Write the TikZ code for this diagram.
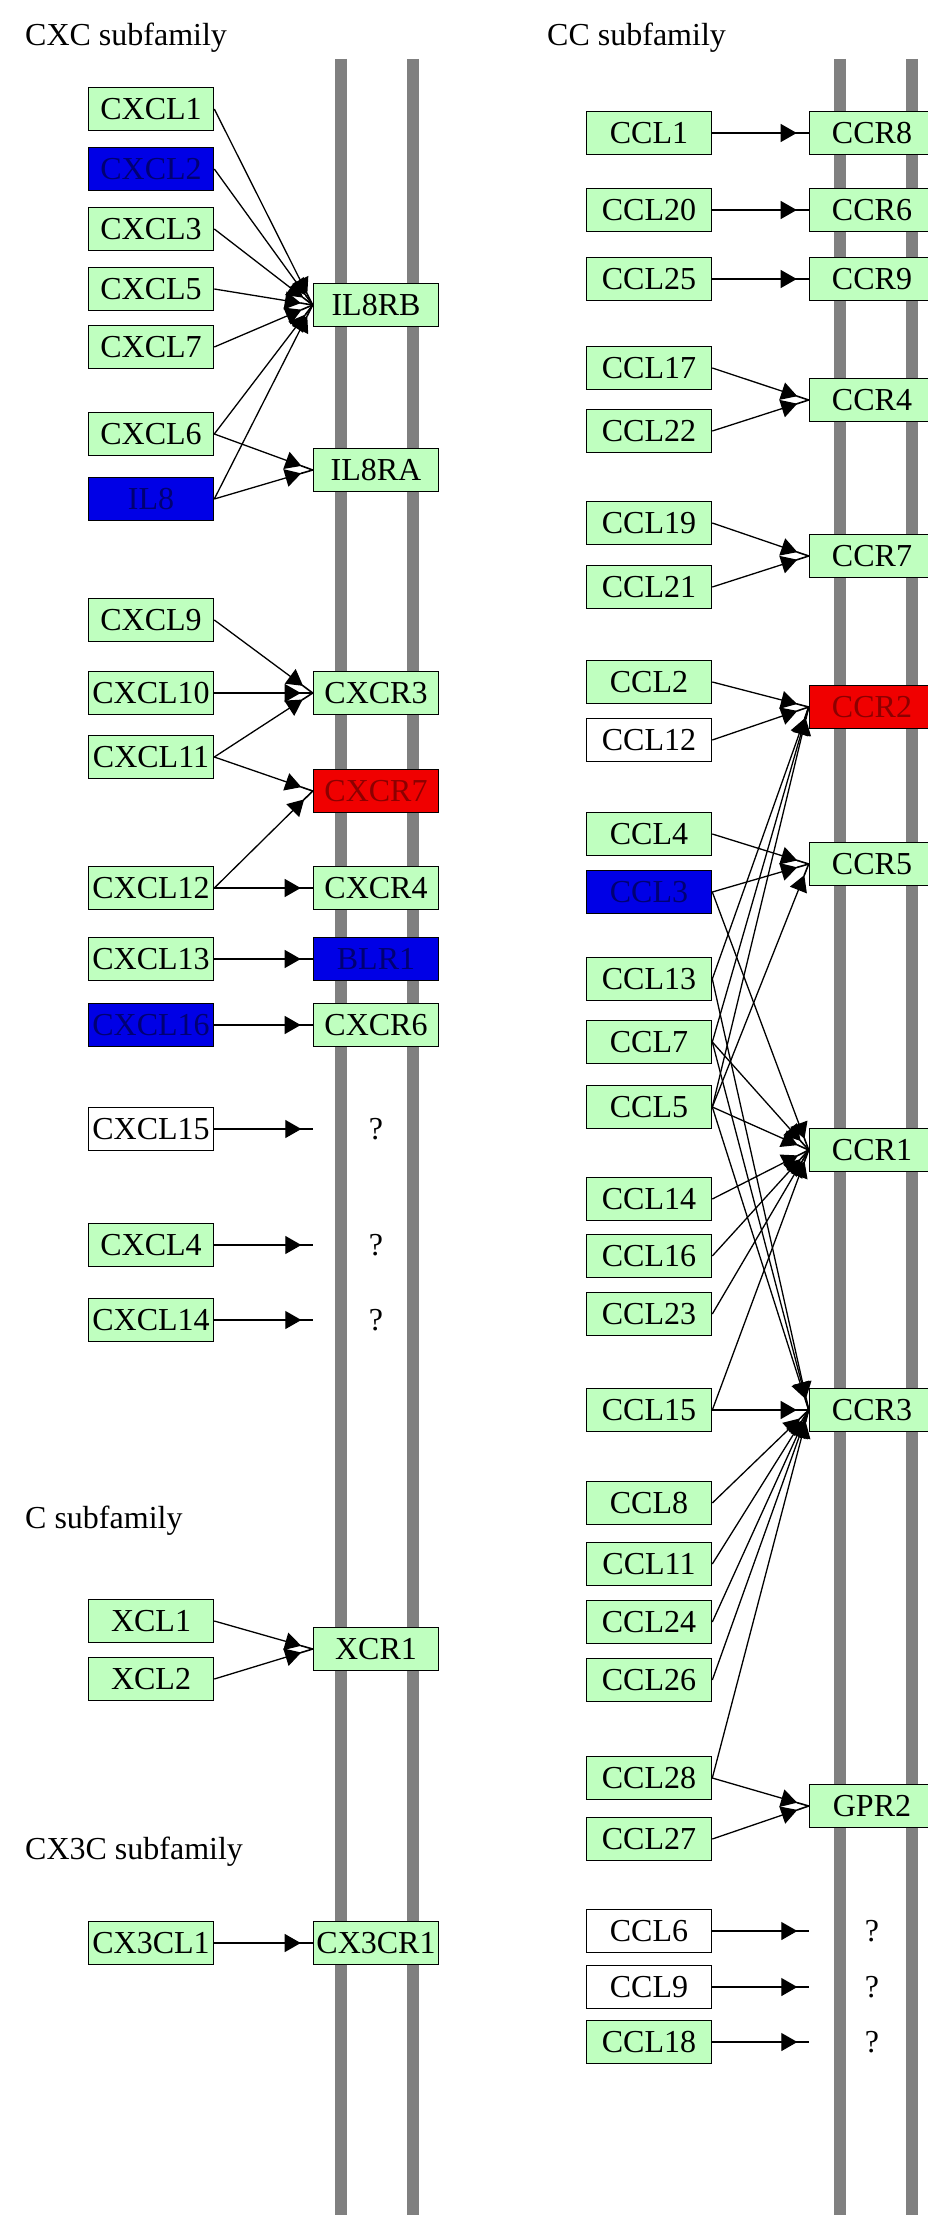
\documentclass[tikz,border=0pt]{standalone}
\usepackage{fontspec}
\setmainfont{Liberation Serif}
\usetikzlibrary{arrows.meta}
\definecolor{keggreen}{HTML}{BFFFBF}
\definecolor{keggblue}{HTML}{0000E6}
\definecolor{keggred}{HTML}{F00000}

\begin{document}
\begin{tikzpicture}[x=1pt,y=-1pt,
gene/.style={rectangle, draw=black, fill=keggreen, line width=1.6pt, minimum width=125pt, minimum height=43pt, inner sep=0pt, font=\fontsize{32}{36}\selectfont},
bluegene/.style={gene, fill=keggblue, text=blue!45!black},
redgene/.style={gene, fill=keggred, text=red!55!black},
nogene/.style={gene, fill=white},
unknown/.style={minimum width=125pt, minimum height=43pt, inner sep=0pt, font=\fontsize{32}{36}\selectfont},
family/.style={anchor=west, inner sep=0pt, font=\fontsize{32}{36}\selectfont},
membrane/.style={draw=black!50, line width=12pt},
act/.style={line width=1.3pt, -{Triangle[length=16pt,width=18pt,sep=0pt]Rectangle[length=12pt,width=1.6pt,sep=0pt]}}
]
    \useasboundingbox (0,0) rectangle (928,2215);

    \draw [membrane] (341,59) -- (341,2215);
    \draw [membrane] (413,59) -- (413,2215);
    \draw [membrane] (840,59) -- (840,2215);
    \draw [membrane] (912,59) -- (912,2215);

    \node [family] (cxc) at (25,38) {CXC subfamily};
    \node [family] (cc) at (547,38) {CC subfamily};
    \node [family] (c) at (25,1521) {C subfamily};
    \node [family] (cx3c) at (25,1852) {CX3C subfamily};

    \node [gene] (cxcl1) at (151,109) {CXCL1};
    \node [bluegene] (cxcl2) at (151,169) {CXCL2};
    \node [gene] (cxcl3) at (151,229) {CXCL3};
    \node [gene] (cxcl5) at (151,289) {CXCL5};
    \node [gene] (cxcl7) at (151,347) {CXCL7};
    \node [gene] (cxcl6) at (151,434) {CXCL6};
    \node [bluegene] (il8) at (151,499) {IL8};
    \node [gene] (il8rb) at (376,305) {IL8RB};
    \node [gene] (il8ra) at (376,470) {IL8RA};

    \node [gene] (cxcl9) at (151,620) {CXCL9};
    \node [gene] (cxcl10) at (151,693) {CXCL10};
    \node [gene] (cxcl11) at (151,757) {CXCL11};
    \node [gene] (cxcl12) at (151,888) {CXCL12};
    \node [gene] (cxcl13) at (151,959) {CXCL13};
    \node [bluegene] (cxcl16) at (151,1025) {CXCL16};
    \node [gene] (cxcr3) at (376,693) {CXCR3};
    \node [redgene] (cxcr7) at (376,791) {CXCR7};
    \node [gene] (cxcr4) at (376,888) {CXCR4};
    \node [bluegene] (blr1) at (376,959) {BLR1};
    \node [gene] (cxcr6) at (376,1025) {CXCR6};

    \node [nogene] (cxcl15) at (151,1129) {CXCL15};
    \node [gene] (cxcl4) at (151,1245) {CXCL4};
    \node [gene] (cxcl14) at (151,1320) {CXCL14};
    \node [unknown] (q1) at (376,1129) {?};
    \node [unknown] (q2) at (376,1245) {?};
    \node [unknown] (q3) at (376,1320) {?};

    \node [gene] (xcl1) at (151,1621) {XCL1};
    \node [gene] (xcl2) at (151,1679) {XCL2};
    \node [gene] (xcr1) at (376,1649) {XCR1};

    \node [gene] (cx3cl1) at (151,1943) {CX3CL1};
    \node [gene] (cx3cr1) at (376,1943) {CX3CR1};

    \node [gene] (ccl1) at (649,133) {CCL1};
    \node [gene] (ccl20) at (649,210) {CCL20};
    \node [gene] (ccl25) at (649,279) {CCL25};
    \node [gene] (ccl17) at (649,368) {CCL17};
    \node [gene] (ccl22) at (649,431) {CCL22};
    \node [gene] (ccl19) at (649,523) {CCL19};
    \node [gene] (ccl21) at (649,587) {CCL21};
    \node [gene] (ccl2) at (649,682) {CCL2};
    \node [nogene] (ccl12) at (649,740) {CCL12};
    \node [gene] (ccl4) at (649,834) {CCL4};
    \node [bluegene] (ccl3) at (649,892) {CCL3};
    \node [gene] (ccl13) at (649,979) {CCL13};
    \node [gene] (ccl7) at (649,1042) {CCL7};
    \node [gene] (ccl5) at (649,1107) {CCL5};
    \node [gene] (ccl14) at (649,1199) {CCL14};
    \node [gene] (ccl16) at (649,1256) {CCL16};
    \node [gene] (ccl23) at (649,1314) {CCL23};
    \node [gene] (ccl15) at (649,1410) {CCL15};
    \node [gene] (ccl8) at (649,1503) {CCL8};
    \node [gene] (ccl11) at (649,1564) {CCL11};
    \node [gene] (ccl24) at (649,1622) {CCL24};
    \node [gene] (ccl26) at (649,1680) {CCL26};
    \node [gene] (ccl28) at (649,1778) {CCL28};
    \node [gene] (ccl27) at (649,1839) {CCL27};
    \node [nogene] (ccl6) at (649,1931) {CCL6};
    \node [nogene] (ccl9) at (649,1987) {CCL9};
    \node [gene] (ccl18) at (649,2042) {CCL18};

    \node [gene] (ccr8) at (872,133) {CCR8};
    \node [gene] (ccr6) at (872,210) {CCR6};
    \node [gene] (ccr9) at (872,279) {CCR9};
    \node [gene] (ccr4) at (872,400) {CCR4};
    \node [gene] (ccr7) at (872,556) {CCR7};
    \node [redgene] (ccr2) at (872,707) {CCR2};
    \node [gene] (ccr5) at (872,864) {CCR5};
    \node [gene] (ccr1) at (872,1150) {CCR1};
    \node [gene] (ccr3) at (872,1410) {CCR3};
    \node [gene] (gpr2) at (872,1806) {GPR2};
    \node [unknown] (q4) at (872,1931) {?};
    \node [unknown] (q5) at (872,1987) {?};
    \node [unknown] (q6) at (872,2042) {?};

    \draw [act] (cxcl1.east) -- (il8rb.west);
    \draw [act] (cxcl2.east) -- (il8rb.west);
    \draw [act] (cxcl3.east) -- (il8rb.west);
    \draw [act] (cxcl5.east) -- (il8rb.west);
    \draw [act] (cxcl7.east) -- (il8rb.west);
    \draw [act] (cxcl6.east) -- (il8rb.west);
    \draw [act] (il8.east) -- (il8rb.west);
    \draw [act] (cxcl6.east) -- (il8ra.west);
    \draw [act] (il8.east) -- (il8ra.west);

    \draw [act] (cxcl9.east) -- (cxcr3.west);
    \draw [act] (cxcl10.east) -- (cxcr3.west);
    \draw [act] (cxcl11.east) -- (cxcr3.west);
    \draw [act] (cxcl11.east) -- (cxcr7.west);
    \draw [act] (cxcl12.east) -- (cxcr7.west);
    \draw [act] (cxcl12.east) -- (cxcr4.west);
    \draw [act] (cxcl13.east) -- (blr1.west);
    \draw [act] (cxcl16.east) -- (cxcr6.west);

    \draw [act] (cxcl15.east) -- (q1.west);
    \draw [act] (cxcl4.east) -- (q2.west);
    \draw [act] (cxcl14.east) -- (q3.west);

    \draw [act] (xcl1.east) -- (xcr1.west);
    \draw [act] (xcl2.east) -- (xcr1.west);
    \draw [act] (cx3cl1.east) -- (cx3cr1.west);

    \draw [act] (ccl1.east) -- (ccr8.west);
    \draw [act] (ccl20.east) -- (ccr6.west);
    \draw [act] (ccl25.east) -- (ccr9.west);
    \draw [act] (ccl17.east) -- (ccr4.west);
    \draw [act] (ccl22.east) -- (ccr4.west);
    \draw [act] (ccl19.east) -- (ccr7.west);
    \draw [act] (ccl21.east) -- (ccr7.west);

    \draw [act] (ccl2.east) -- (ccr2.west);
    \draw [act] (ccl12.east) -- (ccr2.west);
    \draw [act] (ccl13.east) -- (ccr2.west);
    \draw [act] (ccl7.east) -- (ccr2.west);
    \draw [act] (ccl5.east) -- (ccr2.west);

    \draw [act] (ccl4.east) -- (ccr5.west);
    \draw [act] (ccl3.east) -- (ccr5.west);
    \draw [act] (ccl5.east) -- (ccr5.west);

    \draw [act] (ccl3.east) -- (ccr1.west);
    \draw [act] (ccl7.east) -- (ccr1.west);
    \draw [act] (ccl5.east) -- (ccr1.west);
    \draw [act] (ccl14.east) -- (ccr1.west);
    \draw [act] (ccl16.east) -- (ccr1.west);
    \draw [act] (ccl23.east) -- (ccr1.west);
    \draw [act] (ccl15.east) -- (ccr1.west);

    \draw [act] (ccl13.east) -- (ccr3.west);
    \draw [act] (ccl7.east) -- (ccr3.west);
    \draw [act] (ccl5.east) -- (ccr3.west);
    \draw [act] (ccl15.east) -- (ccr3.west);
    \draw [act] (ccl8.east) -- (ccr3.west);
    \draw [act] (ccl11.east) -- (ccr3.west);
    \draw [act] (ccl24.east) -- (ccr3.west);
    \draw [act] (ccl26.east) -- (ccr3.west);
    \draw [act] (ccl28.east) -- (ccr3.west);

    \draw [act] (ccl28.east) -- (gpr2.west);
    \draw [act] (ccl27.east) -- (gpr2.west);

    \draw [act] (ccl6.east) -- (q4.west);
    \draw [act] (ccl9.east) -- (q5.west);
    \draw [act] (ccl18.east) -- (q6.west);
\end{tikzpicture}
\end{document}
